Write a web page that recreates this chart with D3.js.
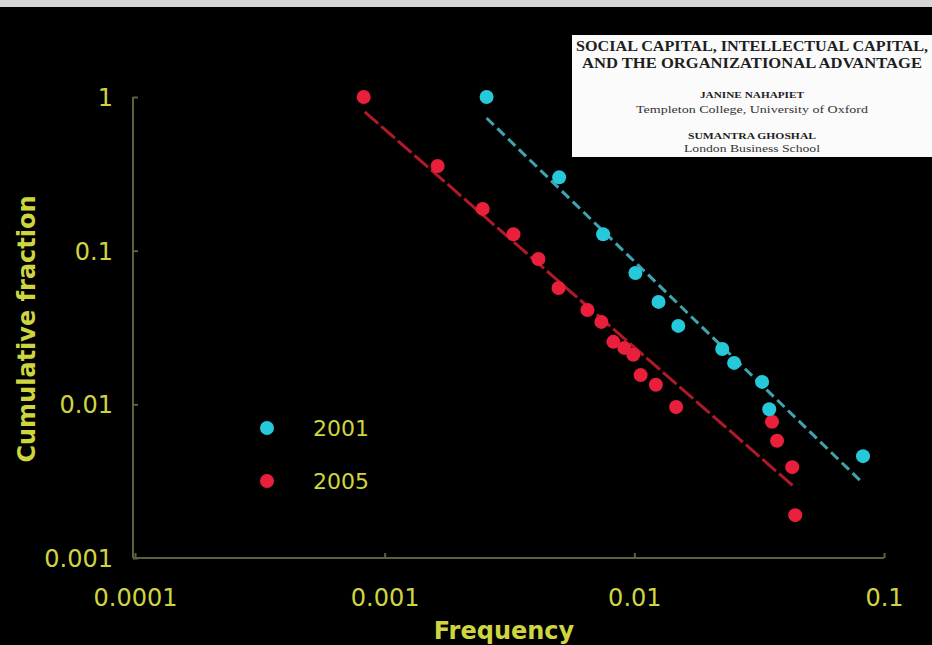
<!DOCTYPE html>
<html>
<head>
<meta charset="utf-8">
<script src="https://cdn.jsdelivr.net/npm/d3@7/dist/d3.min.js"></script>
<style>
  html, body { margin: 0; padding: 0; background: #000; }
  svg { display: block; }
</style>
</head>
<body>
<svg id="chart" width="932" height="645"></svg>
<script>
// Cumulative fraction vs. frequency, log-log, two survey years
const years = ["2001", "2005"];

const freq2001 = [0.00256, 0.0050, 0.0075, 0.0101, 0.0125, 0.0150, 0.0225, 0.0251, 0.0325, 0.0347, 0.0824];
const cum2001  = [1.0, 0.30, 0.128, 0.0716, 0.0464, 0.0324, 0.0229, 0.0186, 0.0140, 0.0093, 0.0046];

const freq2005 = [0.000824, 0.00163, 0.00247, 0.00328, 0.00413, 0.00497, 0.00649, 0.00738, 0.00824, 0.00912, 0.0099, 0.0106, 0.0122, 0.0147, 0.0356, 0.0373, 0.0429, 0.0441];
const cum2005  = [1.0, 0.356, 0.187, 0.128, 0.0883, 0.0572, 0.0411, 0.0344, 0.0255, 0.0233, 0.0210, 0.0155, 0.0134, 0.0096, 0.0077, 0.0058, 0.0039, 0.0019];

// Power-law fit lines: [frequency, cumulative fraction] at each end
const fit2001 = [[0.00256, 0.73], [0.0818, 0.0031]];
const fit2005 = [[0.000832, 0.80], [0.0437, 0.0029]];

const xTicks = [0.0001, 0.001, 0.01, 0.1];
const xTickLabels = ["0.0001", "0.001", "0.01", "0.1"];
const yTicks = [0.001, 0.01, 0.1, 1];
const yTickLabels = ["0.001", "0.01", "0.1", "1"];

// paper reference card: text and the width each line spans
const cardLines = [
  { text: "SOCIAL CAPITAL, INTELLECTUAL CAPITAL,", y: 51, size: 14, bold: true, len: 352 },
  { text: "AND THE ORGANIZATIONAL ADVANTAGE", y: 68, size: 14, bold: true, len: 340 },
  { text: "JANINE NAHAPIET", y: 98, size: 8.5, bold: true, len: 104 },
  { text: "Templeton College, University of Oxford", y: 113, size: 10, bold: false, len: 232 },
  { text: "SUMANTRA GHOSHAL", y: 139, size: 8.5, bold: true, len: 128 },
  { text: "London Business School", y: 152, size: 10, bold: false, len: 136 }
];

const COL_2001 = "#25c9da";
const COL_2005 = "#ea1f3c";
const TXT = "#cfd53e";
const AXIS = "#5f6040";
const FONT = "DejaVu Sans, Verdana, sans-serif";

const svg = d3.select("#chart");
const W = 932, H = 645;

svg.append("rect").attr("width", W).attr("height", H).attr("fill", "#000");
// thin light strip along the top edge
svg.append("rect").attr("x", 0).attr("y", 0).attr("width", W).attr("height", 7).attr("fill", "#d6d6d6");

const x = d3.scaleLog().domain([0.0001, 0.1]).range([135, 884]);
const y = d3.scaleLog().domain([0.001, 1]).range([558, 97]);

const plotG = svg.append("g");

// axes
const xAxis = d3.axisBottom(x).tickValues(xTicks).tickFormat((d, i) => xTickLabels[i]).tickSize(5).tickSizeOuter(0);
const gx = plotG.append("g").attr("transform", `translate(0,${y(0.001)})`).call(xAxis);
gx.select(".domain").attr("stroke", AXIS).attr("stroke-width", 2).attr("d", `M${x(0.0001) - 2},0H${x(0.1)}`);
gx.selectAll(".tick line").attr("stroke", AXIS).attr("stroke-width", 2).attr("y2", -5);
gx.selectAll(".tick text").attr("fill", TXT).attr("font-family", FONT)
  .attr("font-size", 24).attr("dy", 0).attr("y", 48);

const yAxis = d3.axisLeft(y).tickValues(yTicks).tickFormat((d, i) => yTickLabels[i]).tickSize(5).tickSizeOuter(0);
const gy = plotG.append("g").attr("transform", `translate(${x(0.0001) - 2},0)`).call(yAxis);
gy.select(".domain").attr("stroke", AXIS).attr("stroke-width", 2).attr("d", `M0,${y(1)}V${y(0.001)}`);
gy.selectAll(".tick line").attr("stroke", AXIS).attr("stroke-width", 2).attr("x2", 5);
gy.selectAll(".tick text").attr("fill", TXT).attr("font-family", FONT)
  .attr("font-size", 24).attr("x", -20).attr("dy", "0.35em");

// axis titles
svg.append("text").attr("x", 504).attr("y", 639).attr("text-anchor", "middle")
  .attr("fill", TXT).attr("font-family", FONT).attr("font-weight", "bold")
  .attr("font-size", 24).text("Frequency");
svg.append("text").attr("transform", "translate(35,329) rotate(-90)").attr("text-anchor", "middle")
  .attr("fill", TXT).attr("font-family", FONT).attr("font-weight", "bold")
  .attr("font-size", 24).text("Cumulative fraction");

// fit lines
const line = d3.line().x(d => x(d[0])).y(d => y(d[1]));
plotG.append("path").datum(fit2005).attr("d", line).attr("fill", "none")
  .attr("stroke", "#b01a28").attr("stroke-width", 3).attr("stroke-dasharray", "18,4");
plotG.append("path").datum(fit2001).attr("d", line).attr("fill", "none")
  .attr("stroke", "#3fa4ae").attr("stroke-width", 3).attr("stroke-dasharray", "10,5");

// points
const pts2005 = freq2005.map((f, i) => [f, cum2005[i]]);
const pts2001 = freq2001.map((f, i) => [f, cum2001[i]]);
plotG.append("g").selectAll("circle").data(pts2005).join("circle")
  .attr("cx", d => x(d[0])).attr("cy", d => y(d[1])).attr("r", 7).attr("fill", COL_2005);
plotG.append("g").selectAll("circle").data(pts2001).join("circle")
  .attr("cx", d => x(d[0])).attr("cy", d => y(d[1])).attr("r", 7).attr("fill", COL_2001);

// legend
const legend = svg.append("g");
[COL_2001, COL_2005].forEach((c, i) => {
  const ly = 428 + i * 53;
  legend.append("circle").attr("cx", 267).attr("cy", ly).attr("r", 7).attr("fill", c);
  legend.append("text").attr("x", 313).attr("y", ly).attr("dy", "0.36em")
    .attr("fill", TXT).attr("font-family", FONT).attr("font-size", 22)
    .text(years[i]);
});

// paper title card
const card = svg.append("g");
card.append("rect").attr("x", 572).attr("y", 35).attr("width", 360).attr("height", 122).attr("fill", "#fbfbfb");
cardLines.forEach(l => {
  card.append("text").attr("x", 752).attr("y", l.y).attr("text-anchor", "middle")
    .attr("font-family", "Liberation Serif, serif").attr("font-weight", l.bold ? "bold" : "normal")
    .attr("font-size", l.size).attr("fill", l.bold ? "#1e1e1e" : "#333")
    .attr("textLength", l.len).attr("lengthAdjust", "spacingAndGlyphs")
    .text(l.text);
});
</script>
</body>
</html>
